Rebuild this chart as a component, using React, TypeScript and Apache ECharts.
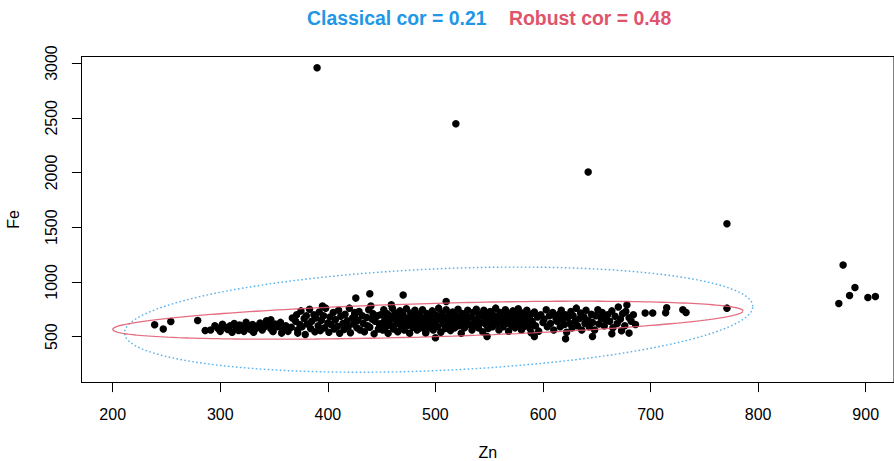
import React, { useEffect, useRef } from "react";
import * as echarts from "echarts";

const titleClassical = "Classical cor = 0.21";
const titleRobust = "Robust cor = 0.48";
const xName = "Zn";
const yName = "Fe";

const xTicks = [200, 300, 400, 500, 600, 700, 800, 900];
const yTicks = [500, 1000, 1500, 2000, 2500, 3000];

// [Zn, Fe] observations
const westTail = [
  [239, 608], [247, 569], [254, 638], [279, 647], [286, 556],
];
const westBand = [
  [291, 560], [295, 600], [298, 575], [300, 548], [302, 612], [305, 585], [307, 566], [309, 598],
  [311, 540], [313, 620], [315, 575], [317, 556], [318, 605], [320, 583], [322, 548], [324, 630],
  [326, 592], [328, 566], [330, 610], [331, 540], [333, 575], [335, 598], [337, 625], [339, 560],
  [341, 588], [343, 645], [345, 603], [347, 572], [349, 552], [351, 615], [353, 590], [356, 630],
  [358, 565], [361, 600], [363, 548], [366, 585], [367, 669], [372, 532], [343, 624], [347, 654],
  [349, 547], [357, 532],
];
const bandA = [
  [370, 640], [371, 700], [372, 560], [374, 610], [375, 735], [376, 590], [378, 665], [379, 520],
  [380, 690], [381, 615], [383, 750], [384, 575], [385, 640], [387, 700], [388, 545], [389, 670],
  [391, 600], [392, 725], [393, 555], [394, 650], [396, 690], [397, 580], [398, 760], [400, 625],
  [401, 540], [402, 680], [403, 610], [405, 720], [406, 570], [407, 655], [409, 595], [410, 740],
  [411, 530], [412, 685], [414, 620], [415, 565], [416, 705], [418, 645], [419, 590], [420, 760],
  [421, 535], [423, 670], [424, 615], [425, 700], [427, 580], [428, 650], [429, 730], [430, 560],
  [432, 690], [433, 620], [434, 545], [436, 675], [437, 600], [438, 745], [439, 585], [441, 660],
  [442, 710], [443, 525], [444, 640], [446, 690], [447, 570], [448, 615], [440, 780], [425, 720],
  [395, 780],
];
const bandB = [
  [449, 700], [450, 620], [451, 560], [452, 745], [453, 655], [454, 590], [455, 710], [456, 530],
  [457, 640], [458, 690], [459, 600], [460, 760], [461, 570], [462, 665], [463, 715], [464, 620],
  [465, 545], [466, 680], [467, 735], [468, 595], [469, 650], [470, 700], [471, 560], [472, 625],
  [473, 755], [474, 600], [475, 670], [476, 530], [477, 715], [478, 640], [479, 585], [480, 690],
  [481, 740], [482, 615], [483, 560], [484, 660], [485, 705], [486, 580], [487, 640], [488, 745],
  [489, 600], [490, 670], [491, 545], [492, 710], [493, 625], [494, 580], [495, 690], [496, 650],
  [497, 735], [498, 560], [499, 615], [500, 700], [501, 645], [502, 590], [503, 760], [504, 665],
  [505, 540], [506, 715], [507, 620], [508, 680], [509, 575], [510, 745], [511, 640], [512, 600],
  [513, 700], [514, 555], [515, 665], [516, 725], [517, 615], [518, 580], [519, 690], [520, 640],
  [521, 750], [522, 600], [523, 670], [524, 530], [525, 710], [526, 630], [527, 580], [528, 695],
  [529, 655], [530, 740], [531, 610],
];
const bandC = [
  [533, 680], [534, 560], [535, 720], [536, 640], [537, 600], [538, 750], [539, 665], [540, 580],
  [541, 705], [542, 625], [543, 690], [544, 545], [545, 740], [546, 650], [547, 610], [548, 700],
  [549, 575], [550, 675], [551, 730], [552, 620], [553, 590], [554, 695], [555, 655], [556, 760],
  [557, 615], [558, 680], [559, 560], [560, 720], [561, 640], [562, 700], [563, 590], [564, 665],
  [565, 745], [566, 620], [567, 685], [568, 550], [569, 710], [570, 645], [571, 600], [572, 735],
  [573, 670], [574, 580], [575, 700], [576, 630], [577, 755], [578, 610], [579, 675], [580, 560],
  [581, 715], [582, 650], [583, 595], [584, 690], [585, 740], [586, 620], [587, 665], [588, 575],
  [589, 705], [590, 640], [592, 725], [593, 600], [595, 680], [596, 550], [598, 700], [600, 630],
  [601, 660], [603, 745], [604, 590], [606, 690], [607, 620], [609, 720], [610, 560], [612, 670],
  [613, 640], [615, 705],
];
const bandD = [
  [616, 590], [617, 740], [618, 655], [620, 610], [621, 700], [622, 540], [623, 675], [625, 620],
  [626, 730], [627, 580], [628, 690], [630, 640], [631, 760], [632, 600], [634, 665], [635, 715],
  [636, 560], [638, 680], [639, 620], [640, 740], [642, 650], [643, 590], [645, 705], [646, 630],
  [648, 560], [649, 690], [651, 745], [652, 615], [654, 670], [655, 720], [657, 600], [658, 655],
  [660, 700], [662, 640], [664, 735], [665, 580], [667, 685], [669, 620], [670, 770], [672, 660],
  [674, 710], [676, 600], [677, 730], [678, 790], [680, 672], [682, 640], [684, 700], [686, 610],
];
const eastTail = [
  [695, 715], [702, 715], [715, 763], [714, 718], [730, 745], [733, 720], [771, 760],
];
const lowPoints = [
  [500, 489], [491, 532], [548, 501], [589, 535], [592, 501], [621, 480], [646, 501],
  [664, 526], [673, 553], [680, 532],
];
const highPoints = [
  [426, 852], [439, 891], [470, 880], [510, 821], [459, 791],
];
const outliers = [
  [390, 2957], [519, 2445], [642, 2005], [771, 1531],
  [879, 1155], [890, 949], [885, 876], [875, 803], [902, 858], [909, 867],
];

// Tolerance ellipses: center and two conjugate semi-diameters (Zn, Fe units)
const robustCenter = [493, 650];
const robustAxisA = [293, 84];
const robustAxisB = [0, 152];
const classicalCenter = [503, 655];
const classicalAxisA = [292, 121];
const classicalAxisB = [0, 465];

function ellipse(c: number[], a: number[], b: number[]) {
  const pts: number[][] = [];
  const n = 240;
  for (let i = 0; i <= n; i++) {
    const t = (2 * Math.PI * i) / n;
    pts.push([
      c[0] + Math.cos(t) * a[0] + Math.sin(t) * b[0],
      c[1] + Math.cos(t) * a[1] + Math.sin(t) * b[1],
    ]);
  }
  return pts;
}

const FONT = "'Liberation Sans', Arial, Helvetica, sans-serif";

export default function App() {
  const ref = useRef<HTMLDivElement>(null);
  useEffect(() => {
    if (!ref.current) return;
    const chart = echarts.init(ref.current, undefined, { renderer: "svg" });
    const points = [
      ...westTail, ...westBand, ...bandA, ...bandB, ...bandC, ...bandD,
      ...eastTail, ...lowPoints, ...highPoints, ...outliers,
    ];
    chart.setOption({
      animation: false,
      backgroundColor: "#ffffff",
      textStyle: { fontFamily: FONT },
      title: [
        {
          text: titleClassical,
          left: 307,
          top: 8.5,
          padding: 0,
          textStyle: { color: "#2297E6", fontSize: 19.4, fontWeight: "bold", fontFamily: FONT },
        },
        {
          text: titleRobust,
          left: 509,
          top: 8.5,
          padding: 0,
          textStyle: { color: "#DF536B", fontSize: 19.4, fontWeight: "bold", fontFamily: FONT },
        },
      ],
      grid: {
        left: 81.5,
        top: 56.5,
        right: 0,
        bottom: 78.5,
        outerBoundsMode: "none",
        containLabel: false,
        show: true,
        borderColor: "#000",
        borderWidth: 1,
        backgroundColor: "transparent",
      },
      xAxis: {
        type: "value",
        min: 171,
        max: 926.3,
        name: xName,
        nameLocation: "middle",
        nameGap: 62,
        nameTextStyle: { color: "#000", fontSize: 16, fontFamily: FONT },
        axisLine: { show: true, onZero: false, lineStyle: { color: "#000", width: 1 } },
        axisTick: { show: true, length: 9.6, customValues: xTicks, lineStyle: { color: "#000" } },
        axisLabel: {
          customValues: xTicks,
          color: "#000",
          fontSize: 16,
          margin: 24,
          fontFamily: FONT,
          formatter: (v: number) => String(v),
        },
        splitLine: { show: false },
      },
      yAxis: {
        type: "value",
        min: 80.6,
        max: 3060,
        name: yName,
        nameLocation: "middle",
        nameGap: 60,
        nameRotate: 90,
        nameTextStyle: { color: "#000", fontSize: 16, fontFamily: FONT },
        axisLine: { show: true, onZero: false, lineStyle: { color: "#000", width: 1 } },
        axisTick: { show: true, length: 9.6, customValues: yTicks, lineStyle: { color: "#000" } },
        axisLabel: {
          customValues: yTicks,
          rotate: 90,
          color: "#000",
          fontSize: 16,
          margin: 22,
          fontFamily: FONT,
          formatter: (v: number) => String(v),
        },
        splitLine: { show: false },
      },
      series: [
        {
          type: "scatter",
          data: points,
          symbol: "circle",
          symbolSize: 7.5,
          itemStyle: { color: "#000", opacity: 1 },
          z: 2,
        },
        {
          type: "line",
          data: ellipse(classicalCenter, classicalAxisA, classicalAxisB),
          showSymbol: false,
          smooth: false,
          lineStyle: { color: "#2297E6", width: 1.4, type: [1.6, 2.4], opacity: 0.75 },
          z: 3,
        },
        {
          type: "line",
          data: ellipse(robustCenter, robustAxisA, robustAxisB),
          showSymbol: false,
          smooth: false,
          lineStyle: { color: "#DF536B", width: 1.3, opacity: 0.85 },
          z: 4,
        },
      ],
    });
    return () => chart.dispose();
  }, []);
  return (
    <div
      ref={ref}
      style={{ position: "absolute", left: 0, top: 0, width: 894, height: 461 }}
    />
  );
}
